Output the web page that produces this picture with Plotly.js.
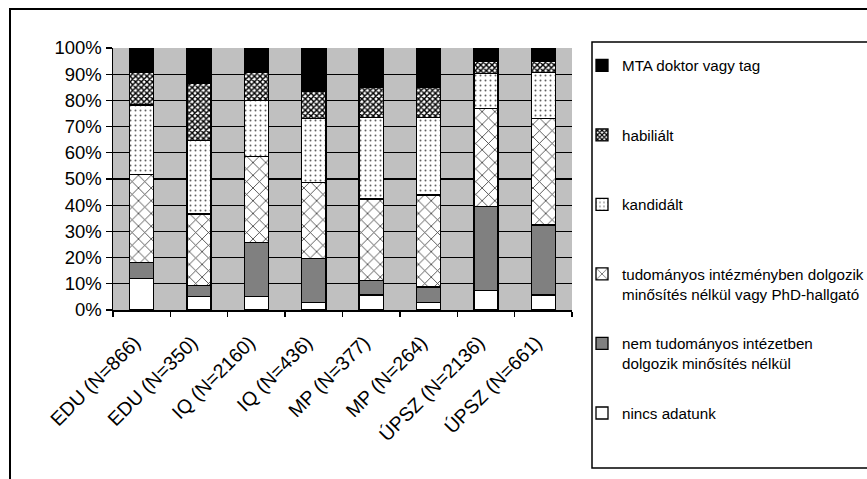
<!DOCTYPE html>
<html>
<head>
<meta charset="utf-8">
<script src="https://cdn.plot.ly/plotly-3.0.1.min.js"></script>
<style>html,body{margin:0;padding:0;background:#fff;}#chart{width:867px;height:479px;}</style>
</head>
<body>
<div id="chart"></div>
<script>
// Categories (x axis)
const categories = ["EDU (N=866)", "EDU (N=350)", "IQ (N=2160)", "IQ (N=436)", "MP (N=377)", "MP (N=264)", "ÚPSZ (N=2136)", "ÚPSZ (N=661)"];

// Series values (percent, stacked bottom → top)
const nincsAdatunk   = [12.1, 5.1, 5.1, 2.9, 5.7, 2.8, 7.4, 5.7];
const nemTudomanyos  = [6.0, 4.3, 20.6, 16.7, 5.5, 6.0, 32.1, 26.8];
const tudomanyos     = [33.5, 27.2, 32.9, 29.1, 31.2, 35.1, 37.3, 40.5];
const kandidalt      = [26.7, 28.0, 21.3, 24.3, 31.1, 29.6, 13.6, 17.7];
const habilialt      = [12.5, 21.8, 10.9, 10.4, 11.5, 11.5, 4.5, 4.2];
const mtaDoktor      = [9.2, 13.6, 9.2, 16.6, 15.0, 15.0, 5.1, 5.1];

// Series names (legend text; a blank second line keeps every legend slot the same height)
const seriesNames = [
  "nincs adatunk<br>\u00a0",
  "nem tudományos intézetben<br>dolgozik minősítés nélkül",
  "tudományos intézményben dolgozik<br>minősítés nélkül vagy PhD-hallgató",
  "kandidált<br>\u00a0",
  "habiliált<br>\u00a0",
  "MTA doktor vagy tag<br>\u00a0"
];

const outline = {color: "#000000", width: 1.3};
function bar(name, y, rank, marker) {
  return {type: "bar", name: name, x: categories, y: y,
          legendgroup: "g" + rank, legendrank: rank,
          marker: Object.assign({line: outline}, marker)};
}

const data = [
  bar(seriesNames[0], nincsAdatunk, 6, {color: "#ffffff"}),
  bar(seriesNames[1], nemTudomanyos, 5, {color: "#808080"}),
  bar(seriesNames[2], tudomanyos, 4, {color: "#ffffff",
      pattern: {shape: "x", size: 9, solidity: 0.18, fgcolor: "#404040", bgcolor: "#ffffff", fillmode: "replace"}}),
  bar(seriesNames[3], kandidalt, 3, {color: "#ffffff",
      pattern: {shape: ".", size: 5, solidity: 0.12, fgcolor: "#606060", bgcolor: "#ffffff", fillmode: "replace"}}),
  bar(seriesNames[4], habilialt, 2, {color: "#303030",
      pattern: {shape: "x", size: 4, solidity: 0.6, fgcolor: "#000000", bgcolor: "#ffffff", fillmode: "replace"}}),
  bar(seriesNames[5], mtaDoktor, 1, {color: "#000000"})
];

const W = 867, H = 479;
const L = 113, R = 295, T = 48, B = 169;
const pw = W - L - R, ph = H - T - B;
const px = v => (v - L) / pw;           // pixel x → paper x
const py = v => (H - B - v) / ph;       // pixel y → paper y

const layout = {
  width: W, height: H,
  margin: {l: L, r: R, t: T, b: B, pad: 0, autoexpand: false},
  paper_bgcolor: "#ffffff",
  plot_bgcolor: "#c0c0c0",
  font: {family: "'Liberation Sans', Arial, sans-serif", color: "#000000"},
  barmode: "stack",
  barnorm: "percent",
  bargap: 0.58,
  showlegend: true,
  xaxis: {
    type: "category",
    tickangle: -45,
    tickfont: {size: 19.5},
    ticklabelstandoff: 12,
    ticklabelshift: -7,
    automargin: false,
    showline: true, linecolor: "#000000", linewidth: 1.5,
    ticks: "outside", ticklen: 5, tickcolor: "#000000", tickwidth: 1.3,
    tickson: "boundaries",
    showgrid: false, zeroline: false
  },
  yaxis: {
    range: [0, 100],
    dtick: 10,
    ticksuffix: "%",
    tickfont: {size: 18.5},
    automargin: false,
    showline: true, linecolor: "#000000", linewidth: 1.5,
    ticks: "outside", ticklen: 6, tickcolor: "#000000", tickwidth: 1.3,
    showgrid: true, gridcolor: "#000000", gridwidth: 1.3,
    zeroline: false, fixedrange: true
  },
  legend: {
    x: px(582), xanchor: "left",
    y: py(49), yanchor: "top",
    traceorder: "grouped",
    tracegroupgap: 27,
    valign: "top",
    maxheight: 470,
    font: {size: 15.2},
    bgcolor: "rgba(0,0,0,0)",
    borderwidth: 0
  },
  shapes: [
    {type: "rect", xref: "paper", yref: "paper",
     x0: px(10), x1: px(880), y0: py(490), y1: py(9),
     line: {color: "#000000", width: 2}, fillcolor: "rgba(0,0,0,0)"},
    {type: "rect", xref: "paper", yref: "paper",
     x0: px(592), x1: px(880), y0: py(468), y1: py(42),
     line: {color: "#000000", width: 1.5}, fillcolor: "rgba(0,0,0,0)"}
  ]
};

Plotly.newPlot("chart", data, layout, {displayModeBar: false, staticPlot: true});
</script>
</body>
</html>
